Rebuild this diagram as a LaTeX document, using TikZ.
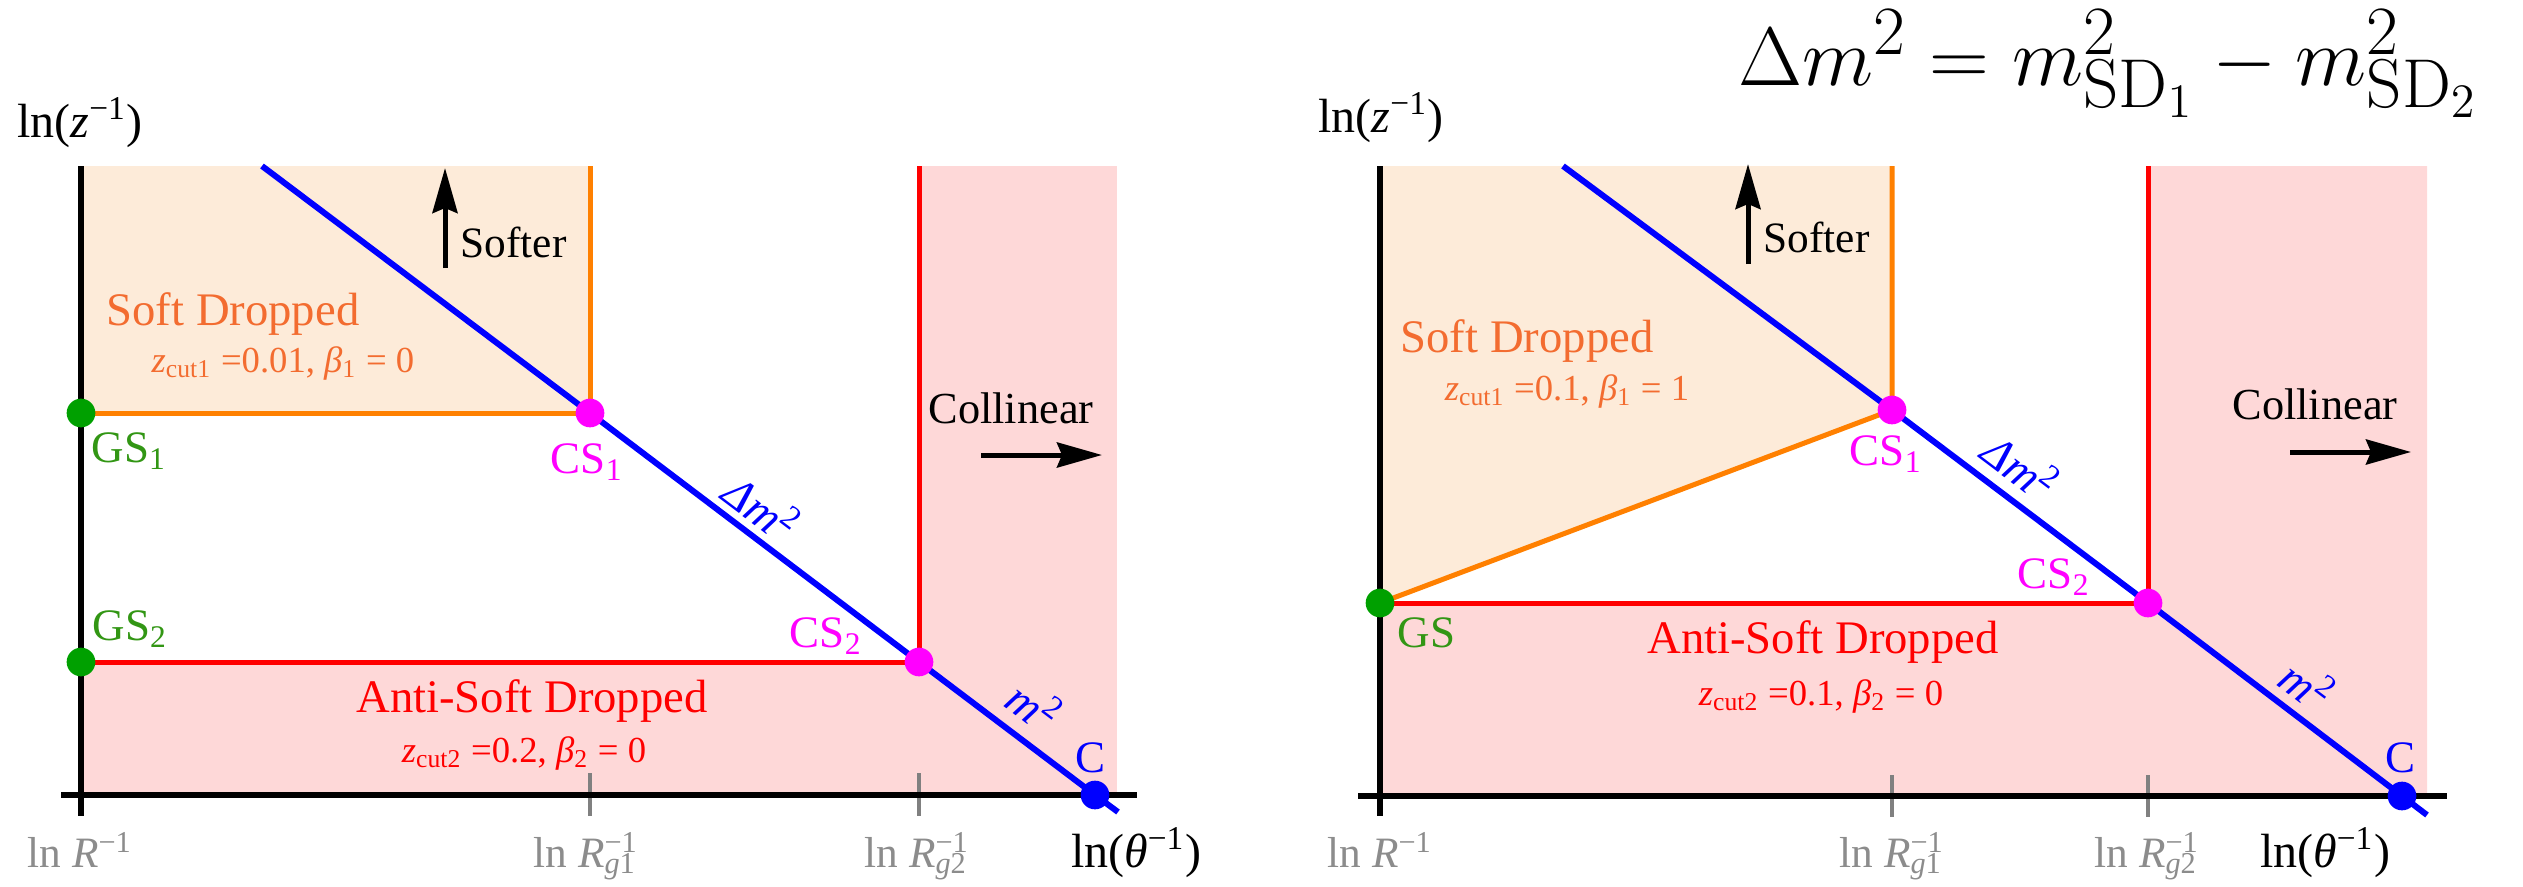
\documentclass[tikz,border=0pt]{standalone}
\usepackage[no-math]{fontspec}
\setmainfont{Liberation Serif}
\usetikzlibrary{arrows.meta}
\definecolor{fillO}{RGB}{253,235,217}
\definecolor{fillP}{RGB}{254,216,216}
\definecolor{lineO}{RGB}{255,128,0}
\definecolor{txtO}{RGB}{243,108,48}
\definecolor{dotG}{RGB}{0,160,0}
\definecolor{txtG}{RGB}{50,150,20}
\definecolor{tickC}{RGB}{128,128,128}
\definecolor{labC}{RGB}{140,140,140}
\definecolor{magC}{RGB}{255,0,255}
\definecolor{blueC}{RGB}{0,0,255}
\definecolor{redC}{RGB}{255,0,0}
\newcommand{\fsz}[1]{\fontsize{#1}{#1}\selectfont}
\newcommand{\Rsub}[1]{\textit{R}\rlap{\textsuperscript{−1}}\textsubscript{\textit{g}#1}}
\begin{document}
\begin{tikzpicture}[x=0.3pt,y=-0.3pt,
  axisline/.style={line width=1.8pt, black},
  blueline/.style={line width=1.8pt, blueC},
  orangeline/.style={line width=1.5pt, lineO},
  redline/.style={line width=1.5pt, redC},
  tickline/.style={line width=1.2pt, tickC},
  pt/.style={circle, inner sep=0pt, minimum size=8.6pt},
  bigarrow/.style={line width=1.5pt, -{Stealth[length=13.5pt,width=7.5pt,inset=1.5pt]}},
  txt/.style={inner sep=0pt, anchor=base},
  region/.style={txt, font=\fsz{14}},
  param/.style={txt, font=\fsz{11}},
  ptlab/.style={txt, font=\fsz{13.5}},
  axlab/.style={txt, font=\fsz{14.4}},
  ticklab/.style={txt, font=\fsz{13}, text=labC},
  curvelab/.style={inner sep=0pt, font=\fsz{14}, text=blueC, rotate=-37},
]
\useasboundingbox (0,0) rectangle (2523,886);

% ---------- LEFT PANEL ----------
\coordinate (GSa) at (81,413);
\coordinate (GSb) at (81,662);
\coordinate (CSa) at (590,413);
\coordinate (CSb) at (919,662);
\coordinate (Ca) at (1095,795);
\coordinate (Ba) at (262,166);
\coordinate (Ea) at (1118,812);
\coordinate (Oa) at (590,166);
\coordinate (Ra) at (919,166);

\fill[fillO] (81,166) rectangle (590,413);
\fill[fillP] (919,166) rectangle (1117,795);
\fill[fillP] (81,662) rectangle (919,795);

\draw[tickline] (590,773) -- (590,816);
\draw[tickline] (919,773) -- (919,816);

\draw[orangeline] (GSa) -- (CSa) -- (Oa);
\draw[redline] (GSb) -- (CSb) -- (Ra);
\draw[blueline] (Ba) -- (CSa) -- (CSb) -- (Ca) -- (Ea);

\draw[axisline] (61,795) -- (1137,795);
\draw[axisline] (81,166) -- (81,816);

\node[pt, fill=dotG] (GSadot) at (GSa) {};
\node[pt, fill=dotG] (GSbdot) at (GSb) {};
\node[pt, fill=magC] (CSadot) at (CSa) {};
\node[pt, fill=magC] (CSbdot) at (CSb) {};
\node[pt, fill=blueC] (Cadot) at (Ca) {};

\coordinate (SAa) at (445,268);
\coordinate (SBa) at (445,168);
\draw[bigarrow] (SAa) -- (SBa);
\coordinate (KAa) at (981,455);
\coordinate (KBa) at (1102,455);
\draw[bigarrow] (KAa) -- (KBa);

\node[axlab] (lza) at (80,137) {ln(\textit{z}\textsuperscript{−1})};
\node[region, text=txtO] (sda) at (233,325) {Soft Dropped};
\node[param, text=txtO] (pa1) at (283,372) {\textit{z}\textsubscript{cut1} =0.01, \textit{β}\textsubscript{1} = 0};
\node[txt, anchor=base west, font=\fsz{13}] (softa) at (460,257) {Softer};
\node[ptlab, anchor=base west, text=txtG] (gsal) at (91,462) {GS\textsubscript{1}};
\node[ptlab, text=magC] (csal) at (587,473) {CS\textsubscript{1}};
\node[txt, font=\fsz{13.3}] (cola) at (1011,423) {Collinear};
\node[curvelab] (dma) at (763,507) {\textit{Δm}\textsuperscript{2}};
\node[curvelab] (ma) at (1035,705) {\textit{m}\textsuperscript{2}};
\node[ptlab, text=blueC] (cla) at (1090,772) {C};
\node[ptlab, anchor=base west, text=txtG] (gsbl) at (92,640) {GS\textsubscript{2}};
\node[ptlab, text=magC] (csbl) at (826,647) {CS\textsubscript{2}};
\node[region, text=redC] (asda) at (532,712) {Anti-Soft Dropped};
\node[param, text=redC] (pa2) at (524,762) {\textit{z}\textsubscript{cut2} =0.2, \textit{β}\textsubscript{2} = 0};
\node[ticklab] (t0a) at (80,867) {ln \textit{R}\textsuperscript{−1}};
\node[ticklab] (t1a) at (585,867) {ln \Rsub{1}};
\node[ticklab] (t2a) at (916,867) {ln \Rsub{2}};
\node[axlab] (lta) at (1136,867) {ln(\textit{θ}\textsuperscript{−1})};

% ---------- RIGHT PANEL ----------
\coordinate (GSr) at (1380,603);
\coordinate (CSr1) at (1892,410);
\coordinate (CSr2) at (2148,603);
\coordinate (Cr) at (2402,796);
\coordinate (Br) at (1563,166);
\coordinate (Er) at (2427,815);
\coordinate (Or) at (1892,166);
\coordinate (Rr) at (2148,166);

\fill[fillO] (1380,166) -- (1892,166) -- (1892,410) -- (1380,603) -- cycle;
\fill[fillP] (2148,166) -- (2427,166) -- (2427,796) -- (1380,796) -- (1380,603) -- (2148,603) -- cycle;

\draw[tickline] (1892,775) -- (1892,817);
\draw[tickline] (2148,775) -- (2148,817);

\draw[orangeline] (GSr) -- (CSr1) -- (Or);
\draw[redline] (GSr) -- (CSr2) -- (Rr);
\draw[blueline] (Br) -- (CSr1) -- (CSr2) -- (Cr) -- (Er);

\draw[axisline] (1358,796) -- (2447,796);
\draw[axisline] (1380,166) -- (1380,816);

\node[pt, fill=dotG] (GSrdot) at (GSr) {};
\node[pt, fill=magC] (CSr1dot) at (CSr1) {};
\node[pt, fill=magC] (CSr2dot) at (CSr2) {};
\node[pt, fill=blueC] (Crdot) at (Cr) {};

\coordinate (SAr) at (1748,264);
\coordinate (SBr) at (1748,164);
\draw[bigarrow] (SAr) -- (SBr);
\coordinate (KAr) at (2290,452);
\coordinate (KBr) at (2411,452);
\draw[bigarrow] (KAr) -- (KBr);

\node[axlab] (lzr) at (1381,132) {ln(\textit{z}\textsuperscript{−1})};
\node[region, text=txtO] (sdr) at (1527,352) {Soft Dropped};
\node[param, text=txtO] (pr1) at (1567,400) {\textit{z}\textsubscript{cut1} =0.1, \textit{β}\textsubscript{1} = 1};
\node[txt, anchor=base west, font=\fsz{13}] (softr) at (1763,252) {Softer};
\node[ptlab, anchor=base west, text=txtG] (gsrl) at (1397,647) {GS};
\node[ptlab, text=magC] (csr1l) at (1886,465) {CS\textsubscript{1}};
\node[ptlab, text=magC] (csr2l) at (2054,588) {CS\textsubscript{2}};
\node[txt, font=\fsz{13.3}] (colr) at (2315,419) {Collinear};
\node[curvelab] (dmr) at (2022,466) {\textit{Δm}\textsuperscript{2}};
\node[curvelab] (mr) at (2308,684) {\textit{m}\textsuperscript{2}};
\node[ptlab, text=blueC] (clr) at (2400,772) {C};
\node[region, text=redC] (asdr) at (1823,653) {Anti-Soft Dropped};
\node[param, text=redC] (pr2) at (1821,705) {\textit{z}\textsubscript{cut2} =0.1, \textit{β}\textsubscript{2} = 0};
\node[ticklab] (t0r) at (1380,867) {ln \textit{R}\textsuperscript{−1}};
\node[ticklab] (t1r) at (1891,867) {ln \Rsub{1}};
\node[ticklab] (t2r) at (2146,867) {ln \Rsub{2}};
\node[axlab] (ltr) at (2325,867) {ln(\textit{θ}\textsuperscript{−1})};

\node[txt, font=\fsz{28.7}] (formula) at (2108,85) {$\Delta m^2 = m^2_{\mathrm{SD}_1} - m^2_{\mathrm{SD}_2}$};
\end{tikzpicture}
\end{document}
